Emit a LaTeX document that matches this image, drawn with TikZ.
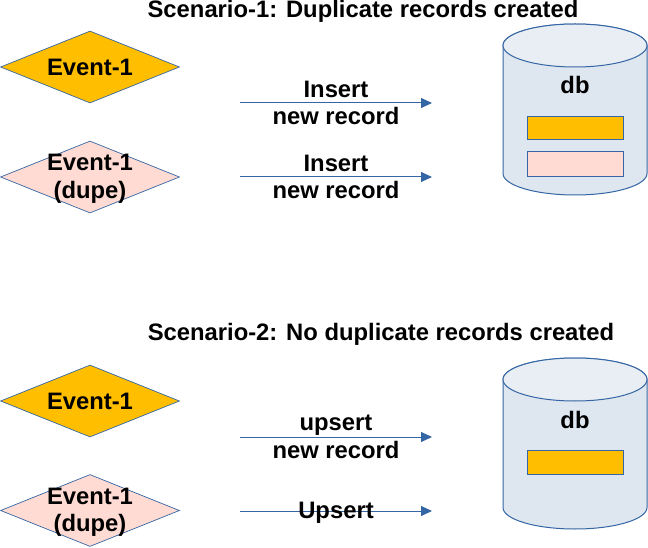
\documentclass[tikz,border=0pt]{standalone}
\usepackage{fontspec}
\setmainfont{Liberation Sans}
\usetikzlibrary{shapes.geometric,arrows.meta}
\definecolor{evorange}{HTML}{FFBF00}
\definecolor{evpink}{HTML}{FFDBD3}
\definecolor{lineblue}{HTML}{3465A4}
\definecolor{dbbody}{HTML}{DEE6EF}
\definecolor{dbtop}{HTML}{E9EEF4}
\tikzset{
  event/.style={diamond, draw=lineblue, line width=0.7pt, minimum width=179pt, minimum height=72pt, inner sep=0pt},
  lbl/.style={font=\bfseries\fontsize{23.8}{27.5}\selectfont, align=center, inner sep=0pt},
  flow/.style={draw=lineblue, line width=1pt, -{Triangle[length=11pt,width=10pt]}},
  record/.style={draw=lineblue, line width=1pt},
}
\begin{document}
\begin{tikzpicture}[x=1pt,y=-1pt]
    \useasboundingbox (0,0) rectangle (648,548);
    % db cylinders
    \foreach \cy in {0,334}{
    \begin{scope}[shift={(0,\cy)}]
    \draw[lineblue, line width=1pt, fill=dbbody] (503,45.5) -- (503,173.5)
       arc[start angle=180, end angle=360, x radius=72pt, y radius=21.5pt]
       -- (647,45.5) arc[start angle=0, end angle=180, x radius=72pt, y radius=21.5pt] -- cycle;
    \draw[lineblue, line width=1pt, fill=dbtop] (575,45.5) ellipse [x radius=72pt, y radius=21.5pt];
    \end{scope}
    }
    % scenario 1
    \node[lbl, anchor=base] (title1) at (363,18) {Scenario-1: Duplicate records created};
    \node[event, fill=evorange] (ev1) at (90,67) {};
    \node[lbl] (ev1txt) at (ev1.center) {Event-1};
    \node[event, fill=evpink] (dupe1) at (90,177) {};
    \node[lbl] (dupe1txt) at ([yshift=-2pt]dupe1.center) {Event-1\\(dupe)};
    \coordinate (ins1a) at (240,103);
    \coordinate (ins1b) at (432,103);
    \coordinate (ins2a) at (240,177);
    \coordinate (ins2b) at (432,177);
    \draw[flow] (ins1a) -- node[lbl] (ins1txt) {Insert\\new record} (ins1b);
    \draw[flow] (ins2a) -- node[lbl] (ins2txt) {Insert\\new record} (ins2b);
    \node[lbl, anchor=base] (db1) at (575,94) {db};
    \draw[record, fill=evorange] (527,117) rectangle (623,140);
    \draw[record, fill=evpink] (527,152) rectangle (623,177);
    % scenario 2
    \node[lbl, anchor=base] (title2) at (381,340) {Scenario-2: No duplicate records created};
    \node[event, fill=evorange] (ev2) at (90,401) {};
    \node[lbl] (ev2txt) at (ev2.center) {Event-1};
    \node[event, fill=evpink] (dupe2) at (90,510.5) {};
    \node[lbl] (dupe2txt) at ([yshift=-2pt]dupe2.center) {Event-1\\(dupe)};
    \coordinate (ups1a) at (240,437);
    \coordinate (ups1b) at (432,437);
    \coordinate (ups2a) at (240,511);
    \coordinate (ups2b) at (432,511);
    \draw[flow] (ups1a) -- node[lbl] (ups1txt) {upsert\\new record} (ups1b);
    \draw[flow] (ups2a) -- node[lbl, yshift=-1.5pt] (ups2txt) {Upsert} (ups2b);
    \node[lbl, anchor=base] (db2) at (575,428) {db};
    \draw[record, fill=evorange] (527,450) rectangle (623,474);
\end{tikzpicture}
\end{document}
